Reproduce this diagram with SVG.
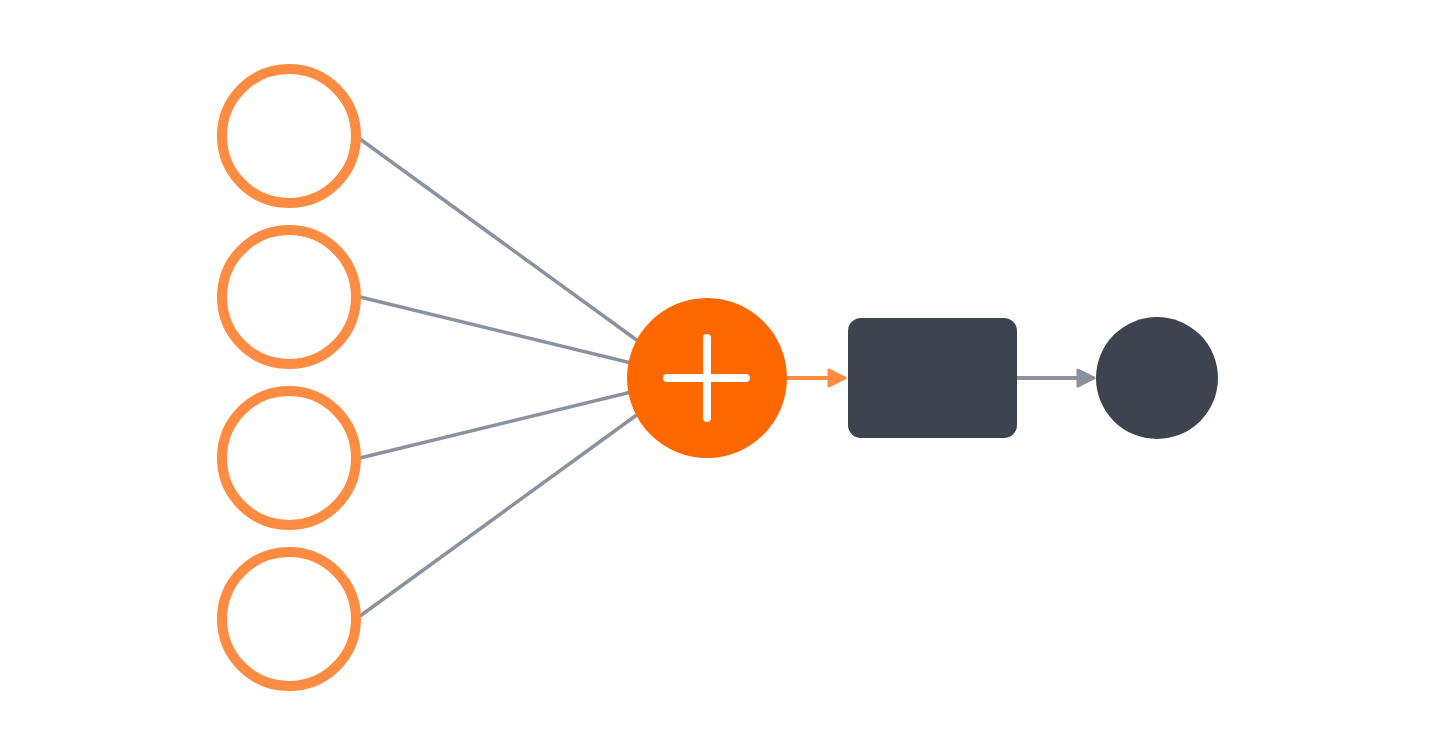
<svg xmlns="http://www.w3.org/2000/svg" width="1440" height="756" viewBox="0 0 1440 756">
<style>
.in{fill:#ffffff;stroke:#fd8c42;stroke-width:10}
.edge{stroke:#8b919d;stroke-width:3.5;fill:none;stroke-linecap:round}
.dark{fill:#3d444f}
</style>
<defs>
<marker id="ao" viewBox="0 0 10 10" refX="9" refY="5" markerWidth="5" markerHeight="5" orient="auto" markerUnits="strokeWidth">
<path d="M1,1 L9,5 L1,9 Z" fill="#fd8c42" stroke="#fd8c42" stroke-width="1.5" stroke-linejoin="round"/>
</marker>
<marker id="ag" viewBox="0 0 10 10" refX="9" refY="5" markerWidth="5" markerHeight="5" orient="auto" markerUnits="strokeWidth">
<path d="M1,1 L9,5 L1,9 Z" fill="#8b919d" stroke="#8b919d" stroke-width="1.5" stroke-linejoin="round"/>
</marker>
</defs>
<rect width="1440" height="756" fill="#ffffff"/>
<g id="connectors">
<line class="edge" x1="360" y1="139" x2="660" y2="357"/>
<line class="edge" x1="360" y1="297" x2="660" y2="370"/>
<line class="edge" x1="360" y1="458" x2="660" y2="385"/>
<line class="edge" x1="360" y1="616" x2="660" y2="398"/>
<line x1="787" y1="378" x2="845" y2="378" stroke="#fd8c42" stroke-width="4" marker-end="url(#ao)"/>
<line x1="1016" y1="378" x2="1094" y2="378" stroke="#8b919d" stroke-width="4" marker-end="url(#ag)"/>
</g>
<g id="input1"><circle class="in" cx="289" cy="136" r="67"/></g>
<g id="input2"><circle class="in" cx="289" cy="297" r="67"/></g>
<g id="input3"><circle class="in" cx="289" cy="458" r="67"/></g>
<g id="input4"><circle class="in" cx="289" cy="619" r="67"/></g>
<g id="sum">
<circle cx="707" cy="378" r="80" fill="#ff6700"/>
<path d="M667 378 H746 M707 338 V418" stroke="#ffffff" stroke-width="8" stroke-linecap="round"/>
</g>
<g id="activation"><rect class="dark" x="848" y="318" width="169" height="120" rx="13"/></g>
<g id="output"><circle class="dark" cx="1157" cy="378" r="61"/></g>
</svg>
